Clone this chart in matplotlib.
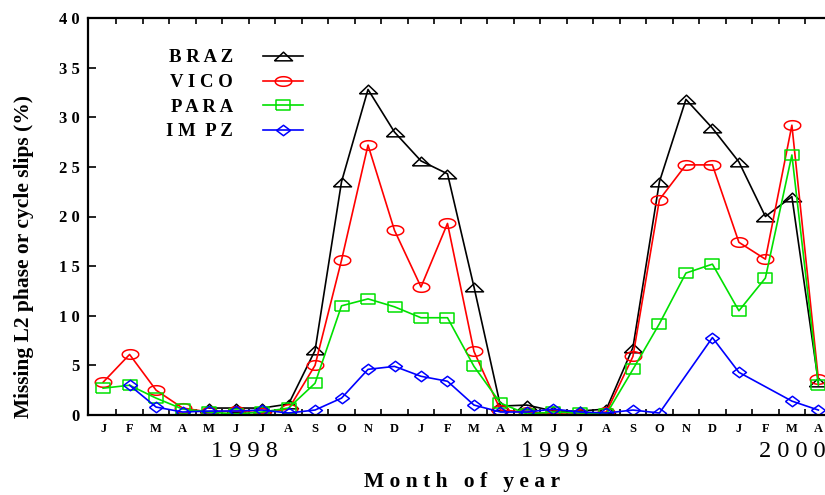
import numpy as np
import matplotlib
matplotlib.use("Agg")
import matplotlib.pyplot as plt

plt.rcParams['font.family'] = ['Liberation Serif', 'DejaVu Serif']

months = list("JFMAMJJASOND") * 2 + list("JFMA")
years = ["1 9 9 8", "1 9 9 9", "2 0 0 0"]
year_pos = [5.35, 17.05, 26.0]

nan = np.nan
braz = [nan, nan, nan, nan, 0.7, 0.7, 0.7, 1.1, 6.5, 23.5, 32.8, 28.5, 25.6, 24.3,
        12.9, 0.9, 1.0, 0.4, 0.4, 0.6, 6.8, 23.5, 31.8, 28.9, 25.5, 20.0, 22.0, 3.3]
vico = [3.3, 6.1, 2.5, 0.7, 0.3, 0.4, 0.2, 0.6, 5.0, 15.6, 27.2, 18.6, 12.9, 19.3,
        6.4, 0.5, 0.3, 0.1, 0.1, 0.3, 5.9, 21.7, 25.2, 25.2, 17.4, 15.7, 29.2, 3.6]
para = [2.7, 3.0, 1.7, 0.6, 0.3, 0.1, 0.3, 0.7, 3.2, 11.0, 11.7, 10.9, 9.8, 9.8,
        4.9, 1.2, 0.1, 0.3, 0.2, 0.1, 4.6, 9.2, 14.3, 15.2, 10.5, 13.8, 26.2, 3.0]
impz = [nan, 3.0, 0.8, 0.3, 0.4, 0.4, 0.5, 0.2, 0.5, 1.7, 4.6, 4.9, 3.9, 3.4,
        1.0, 0.3, 0.3, 0.6, 0.3, 0.2, 0.5, 0.2, nan, 7.8, 4.3, nan, 1.4, 0.5]

series_names = ["B R A Z", "V I C O", "P A R A", "I M  P Z"]
series_colors = ["black", "red", "#00e000", "blue"]

# stretched marker shapes like the original
t = np.linspace(0, 2 * np.pi, 40)
tri_m = [(-1, -0.48), (1, -0.48), (0, 0.48), (-1, -0.48)]
ell_m = list(zip(np.cos(t), 0.58 * np.sin(t)))
sq_m = [(-1, -0.66), (1, -0.66), (1, 0.66), (-1, 0.66), (-1, -0.66)]
dia_m = [(-1, 0), (0, -0.75), (1, 0), (0, 0.75), (-1, 0)]
markers = [tri_m, ell_m, sq_m, dia_m]
msizes = [13, 11.9, 10.4, 10]

fig = plt.figure(figsize=(8.25, 4.95), dpi=100)
ax = fig.add_axes([88 / 825, 80 / 495, 1 - 88 / 825, 397 / 495])

x = np.arange(len(months))
for vals, name, col, mk, ms in zip([braz, vico, para, impz], series_names,
                                   series_colors, markers, msizes):
    v = np.array(vals, dtype=float)
    ok = ~np.isnan(v)
    ax.plot(x[ok], v[ok], color=col, lw=1.2, marker=mk, ms=ms,
            mfc='none', mec=col, mew=1.1, label=name)

ax.set_xlim(-0.57, 27.25)
ax.set_ylim(0, 40)
ax.set_yticks(np.arange(0, 41, 5))
ax.set_yticklabels([" ".join(str(v)) for v in range(0, 41, 5)],
                   fontsize=12, fontweight='bold')
ax.set_xticks(x)
ax.set_xticklabels(months, fontsize=9, fontweight='bold')
ax.set_xticks(np.arange(0.5, 27, 1), minor=True)
ax.tick_params(axis='x', which='major', length=0, pad=6)
ax.tick_params(axis='x', which='minor', direction='in', length=4, width=1.2,
               top=True, bottom=True)
ax.tick_params(axis='y', direction='in', length=6, width=1.2, pad=6)
ax.spines['right'].set_visible(False)
for s in ['left', 'top', 'bottom']:
    ax.spines[s].set_linewidth(1.6)

for yr, p in zip(years, year_pos):
    ax.text(p, -0.093, yr, transform=ax.get_xaxis_transform(),
            ha='center', va='center', fontsize=17.5)

fig.text(462 / 825, 1 - 482 / 495, "M o n t h   o f   y e a r",
         ha='center', va='center', fontsize=15.5, fontweight='bold')
fig.text(24 / 825, 1 - 257 / 495, "Missing L2 phase or cycle slips (%)",
         ha='center', va='center', rotation=90, fontsize=15.5, fontweight='bold')

ax.legend(loc='upper left', bbox_to_anchor=(157 / 825, 1 - 40 / 495),
          bbox_transform=fig.transFigure, frameon=False, markerfirst=False,
          prop={'size': 13.5, 'weight': 'bold'}, handlelength=2.1,
          handletextpad=1.6, labelspacing=0.4, borderpad=0)

fig.savefig("out.png", dpi=100)
